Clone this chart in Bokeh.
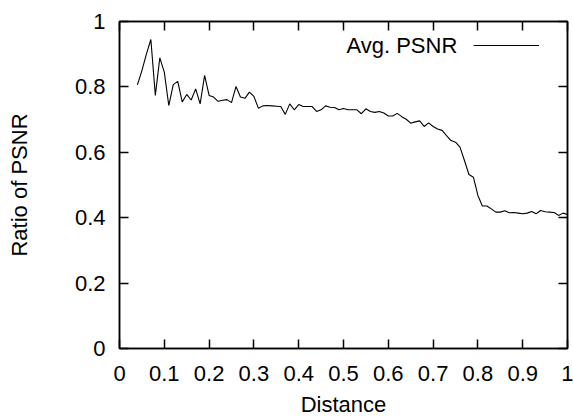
from bokeh.plotting import figure
from bokeh.models import (LinearAxis, FixedTicker, Range1d, Label, Legend, LegendItem)
from bokeh.embed import file_html
from bokeh.resources import INLINE

distance = [0.04, 0.05, 0.06, 0.07, 0.08, 0.09, 0.10, 0.11, 0.12, 0.13, 0.14, 0.15,
            0.16, 0.17, 0.18, 0.19, 0.20, 0.21, 0.22, 0.23, 0.24, 0.25, 0.26, 0.27,
            0.28, 0.29, 0.30, 0.31, 0.32, 0.33, 0.34, 0.35, 0.36, 0.37, 0.38, 0.39,
            0.40, 0.41, 0.42, 0.43, 0.44, 0.45, 0.46, 0.47, 0.48, 0.49, 0.50, 0.51,
            0.52, 0.53, 0.54, 0.55, 0.56, 0.57, 0.58, 0.59, 0.60, 0.61, 0.62, 0.63,
            0.64, 0.65, 0.66, 0.67, 0.68, 0.69, 0.70, 0.71, 0.72, 0.73, 0.74, 0.75,
            0.76, 0.77, 0.78, 0.79, 0.80, 0.81, 0.82, 0.83, 0.84, 0.85, 0.86, 0.87,
            0.88, 0.89, 0.90, 0.91, 0.92, 0.93, 0.94, 0.95, 0.96, 0.97, 0.98, 0.99, 1.00]

avg_psnr = [0.806, 0.850, 0.900, 0.945, 0.774, 0.889, 0.845, 0.743, 0.807, 0.817, 0.754, 0.777,
            0.760, 0.794, 0.748, 0.835, 0.774, 0.769, 0.756, 0.759, 0.761, 0.752, 0.801, 0.769,
            0.765, 0.784, 0.771, 0.735, 0.742, 0.743, 0.742, 0.741, 0.740, 0.716, 0.748, 0.730,
            0.746, 0.740, 0.740, 0.740, 0.725, 0.730, 0.742, 0.738, 0.737, 0.730, 0.734, 0.730,
            0.730, 0.730, 0.718, 0.733, 0.725, 0.722, 0.725, 0.720, 0.711, 0.711, 0.719, 0.709,
            0.701, 0.689, 0.693, 0.696, 0.679, 0.690, 0.679, 0.671, 0.667, 0.651, 0.636, 0.631,
            0.616, 0.575, 0.532, 0.524, 0.468, 0.436, 0.436, 0.427, 0.417, 0.417, 0.421, 0.415,
            0.416, 0.414, 0.412, 0.414, 0.419, 0.412, 0.422, 0.418, 0.417, 0.416, 0.407, 0.414, 0.410]

x_ticks = [0, 0.1, 0.2, 0.3, 0.4, 0.5, 0.6, 0.7, 0.8, 0.9, 1]
x_tick_labels = ["0", "0.1", "0.2", "0.3", "0.4", "0.5", "0.6", "0.7", "0.8", "0.9", "1"]
y_ticks = [0, 0.2, 0.4, 0.6, 0.8, 1]
y_tick_labels = ["0", "0.2", "0.4", "0.6", "0.8", "1"]

series_name = "Avg. PSNR"
x_title = "Distance"
y_title = "Ratio of PSNR"

FONT = "Liberation Sans"
FS = "22px"

p = figure(width=573, height=419, output_backend="svg", toolbar_location=None,
           x_range=Range1d(0, 1), y_range=Range1d(0, 1),
           x_axis_location=None, y_axis_location=None,
           min_border_left=119, min_border_right=6, min_border_top=21, min_border_bottom=71)
p.grid.visible = False
p.outline_line_color = "black"
p.outline_line_width = 1.5
p.background_fill_color = "white"
p.border_fill_color = "white"


def make_axis(ticks, labels, show_labels, title=None):
    ax = LinearAxis(ticker=FixedTicker(ticks=ticks))
    if show_labels:
        ax.major_label_overrides = {t: l for t, l in zip(ticks, labels)}
    else:
        ax.major_label_overrides = {t: "" for t in ticks}
    ax.major_tick_in = 9
    ax.major_tick_out = 0
    ax.minor_tick_in = 0
    ax.minor_tick_out = 0
    ax.major_tick_line_width = 1.5
    ax.axis_line_width = 1.5
    ax.major_label_text_font = FONT
    ax.major_label_text_color = "black"
    ax.major_label_text_font_size = FS
    ax.major_label_standoff = 14 if show_labels else 0
    if title:
        ax.axis_label = title
        ax.axis_label_text_font = FONT
        ax.axis_label_text_font_size = FS
        ax.axis_label_text_font_style = "normal"
        ax.axis_label_text_color = "black"
    return ax


xb = make_axis(x_ticks, x_tick_labels, True, x_title)
xb.major_label_standoff = 17
xb.axis_label_standoff = 8
p.add_layout(xb, "below")
yl = make_axis(y_ticks, y_tick_labels, True, y_title)
yl.axis_label_standoff = 40
p.add_layout(yl, "left")
p.add_layout(make_axis(x_ticks, x_tick_labels, False), "above")
p.add_layout(make_axis(y_ticks, y_tick_labels, False), "right")

r = p.line(distance, avg_psnr, line_color="black", line_width=1.1)

legend = Legend(items=[LegendItem(label=" ", renderers=[r])], location="top_right",
                padding=0, spacing=0, margin=23, label_standoff=0, label_width=5,
                label_height=0, glyph_width=66, glyph_height=2,
                label_text_font_size="1px", border_line_alpha=0,
                background_fill_alpha=0)
p.add_layout(legend)

p.add_layout(Label(x=0.754, y=0.927, text=series_name, text_align="right",
                   text_baseline="middle", text_font=FONT, text_font_size=FS,
                   text_color="black"))

open("out.html", "w").write(file_html(p, INLINE))
